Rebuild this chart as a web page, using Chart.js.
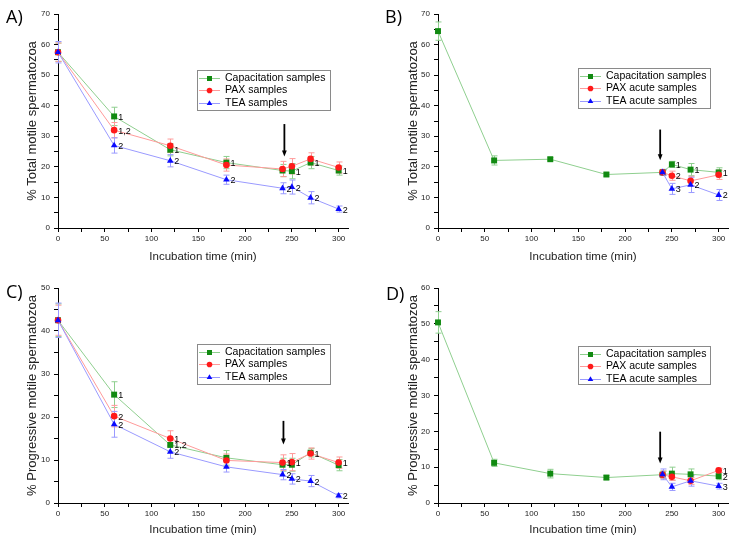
<!DOCTYPE html>
<html>
<head>
<meta charset="utf-8">
<script src="https://cdn.jsdelivr.net/npm/chart.js@4"></script>
<style>
body{margin:0;background:#fff;}
#wrap{position:relative;width:734px;height:541px;overflow:hidden;}
canvas{position:absolute;}
.tag{position:absolute;font-family:'Open Sans',sans-serif;font-size:18px;line-height:1;color:#000;}
</style>
</head>
<body>
<div id="wrap">
  <canvas id="chartA" width="367" height="270" style="left:0;top:0"></canvas>
  <canvas id="chartB" width="367" height="270" style="left:367px;top:0"></canvas>
  <canvas id="chartC" width="367" height="271" style="left:0;top:270px"></canvas>
  <canvas id="chartD" width="367" height="271" style="left:367px;top:270px"></canvas>
  <div class="tag" style="left:6px;top:7px">A)</div>
  <div class="tag" style="left:385px;top:7px">B)</div>
  <div class="tag" style="left:6px;top:282px">C)</div>
  <div class="tag" style="left:386px;top:284px">D)</div>
</div>
<script>
// sampling times (min)
const timesFull = [0, 60, 120, 180, 240, 250, 270, 300];
const timesAcute = [240, 250, 270, 300];

// A) total motile, continuous incubation
const totalCap = [57.5, 36.5, 25.6, 21.4, 18.8, 18.6, 21.4, 18.8];
const totalCapErr = [3, 3, 2, 2, 2, 2.5, 2, 1.5];
const totalPax = [57.5, 32, 26.9, 20.6, 19.3, 20.2, 22.6, 19.8];
const totalPaxErr = [3, 2.5, 2.2, 2, 2.5, 2.5, 2, 1.8];
const totalTea = [57.5, 27, 22, 15.8, 13, 13.4, 9.9, 6.2];
const totalTeaErr = [3.5, 2.5, 2, 1.5, 1.8, 2.3, 2, 1];
const totalCapMarks = ['', '1', '1', '1', '', '1', '1', '1'];
const totalPaxMarks = ['', '1,2', '', '', '', '', '', ''];
const totalTeaMarks = ['', '2', '2', '2', '2', '2', '2', '2'];

// B) total motile, acute addition
const acuteTotalCap = [64.4, 22.1, 22.5, 17.5, 18.2, 20.8, 19.1, 18.2];
const acuteTotalCapErr = [3, 1.5, 0.5, 0.5, 0.8, 1, 2, 1.5];
const acuteTotalPax = [18.2, 17.1, 15.4, 17.4];
const acuteTotalPaxErr = [0.8, 1.5, 1.5, 1.5];
const acuteTotalTea = [18.2, 12.8, 14.1, 10.8];
const acuteTotalTeaErr = [1, 1.8, 2.5, 1.8];
const acuteTotalCapMarks = ['', '', '', '', '', '1', '1', '1'];
const acuteTotalPaxMarks = ['', '2', '', ''];
const acuteTotalTeaMarks = ['', '3', '2', '2'];

// C) progressive motile, continuous incubation
const progCap = [42.5, 25.2, 13.5, 10.5, 8.9, 8.9, 11.7, 8.8];
const progCapErr = [3.8, 3, 1.5, 1.7, 1.5, 1.5, 1, 1.3];
const progPax = [42.5, 20.2, 15, 9.9, 9.4, 9.5, 11.5, 9.4];
const progPaxErr = [3.5, 2.5, 1.8, 1.5, 1.8, 2, 1.3, 1.3];
const progTea = [42.5, 18.3, 11.9, 8.4, 6.6, 5.6, 5.1, 1.7];
const progTeaErr = [4, 3, 1.5, 1.2, 1.2, 1.2, 1.3, 0.5];
const progCapMarks = ['', '1', '1,2', '', '', '', '', ''];
const progPaxMarks = ['', '2', '1', '', '1', '1', '1', '1'];
const progTeaMarks = ['', '2', '2', '', '2', '2', '2', '2'];

// D) progressive motile, acute addition
const acuteProgCap = [50.4, 11.2, 8.2, 7.1, 7.9, 8.2, 8.0, 7.5];
const acuteProgCapErr = [3, 1, 1.2, 0.6, 1, 1.8, 1.5, 1];
const acuteProgPax = [7.9, 7.3, 6.2, 9.1];
const acuteProgPaxErr = [1, 1, 1, 0.6];
const acuteProgTea = [8.0, 4.5, 6.2, 4.7];
const acuteProgTeaErr = [1.5, 1, 1.5, 0.8];
const acuteProgCapMarks = ['', '', '', '', '', '', '', '2'];
const acuteProgPaxMarks = ['', '', '', '1'];
const acuteProgTeaMarks = ['', '', '', '3'];

const GREEN = '#118a11', GREEN_L = '#8fcf8f';
const RED = '#ff1a1a', RED_L = '#ff9a9a';
const BLUE = '#0a0aff', BLUE_L = '#9a9aff';
const FONT = '"Liberation Sans", Arial, sans-serif';

// error bars under the markers
const errorBars = {
  id: 'errorBars',
  beforeDatasetsDraw(chart) {
    const ctx = chart.ctx, xs = chart.scales.x, ys = chart.scales.y;
    chart.data.datasets.forEach(ds => {
      if (!ds.errors) return;
      ctx.save();
      ctx.strokeStyle = ds.borderColor;
      ctx.lineWidth = 1;
      ds.data.forEach((p, j) => {
        const x = Math.round(xs.getPixelForValue(p.x)) + 0.5;
        const y1 = ys.getPixelForValue(p.y + ds.errors[j]);
        const y2 = ys.getPixelForValue(p.y - ds.errors[j]);
        ctx.beginPath();
        ctx.moveTo(x, y1); ctx.lineTo(x, y2);
        ctx.moveTo(x - 3, y1); ctx.lineTo(x + 3, y1);
        ctx.moveTo(x - 3, y2); ctx.lineTo(x + 3, y2);
        ctx.stroke();
      });
      ctx.restore();
    });
  }
};

// significance numbers next to points
const pointMarks = {
  id: 'pointMarks',
  afterDatasetsDraw(chart) {
    const ctx = chart.ctx;
    ctx.save();
    ctx.fillStyle = '#000';
    ctx.font = '9px ' + FONT;
    ctx.textAlign = 'left';
    ctx.textBaseline = 'middle';
    chart.data.datasets.forEach((ds, i) => {
      if (!ds.marks) return;
      const meta = chart.getDatasetMeta(i);
      meta.data.forEach((el, j) => {
        if (ds.marks[j]) ctx.fillText(ds.marks[j], el.x + 4, el.y + 1);
      });
    });
    ctx.restore();
  }
};

// black arrow marking the addition time
const arrowMark = {
  id: 'arrowMark',
  afterDatasetsDraw(chart, args, opts) {
    if (opts.x == null) return;
    const ctx = chart.ctx;
    const x = chart.scales.x.getPixelForValue(opts.x);
    const y1 = chart.scales.y.getPixelForValue(opts.from);
    const y2 = chart.scales.y.getPixelForValue(opts.to);
    ctx.save();
    ctx.strokeStyle = '#000';
    ctx.fillStyle = '#000';
    ctx.lineWidth = 1.8;
    ctx.beginPath(); ctx.moveTo(x, y1); ctx.lineTo(x, y2 - 5); ctx.stroke();
    ctx.beginPath();
    ctx.moveTo(x - 2.4, y2 - 6); ctx.lineTo(x + 2.4, y2 - 6); ctx.lineTo(x, y2);
    ctx.closePath(); ctx.fill();
    ctx.restore();
  }
};

// legend box inside the plot
const boxLegend = {
  id: 'boxLegend',
  afterDraw(chart, args, opts) {
    if (opts.left == null) return;
    const ctx = chart.ctx;
    ctx.save();
    ctx.strokeStyle = '#8a8a8a';
    ctx.lineWidth = 1;
    ctx.strokeRect(opts.left + 0.5, opts.top + 0.5, opts.width, opts.height);
    chart.data.datasets.forEach((ds, i) => {
      const cy = Math.round(opts.top + 7.5 + i * 12.7) + 0.5;
      const x0 = opts.left + 2;
      ctx.strokeStyle = ds.borderColor;
      ctx.beginPath(); ctx.moveTo(x0, cy); ctx.lineTo(x0 + 21, cy); ctx.stroke();
      ctx.fillStyle = ds.pointBackgroundColor;
      Chart.helpers.drawPoint(ctx, {pointStyle: ds.pointStyle, radius: ds.pointRadius * 0.85, rotation: 0, borderWidth: 0}, x0 + 10.5, cy);
      ctx.fillStyle = '#000';
      ctx.font = '10.5px ' + FONT;
      ctx.textBaseline = 'middle';
      ctx.fillText(ds.label, opts.left + 28, cy);
    });
    ctx.restore();
  }
};

function series(label, xs, ys, errs, marks, style, mark, line, r, order) {
  return {
    label: label,
    data: xs.map((x, i) => ({x: x, y: ys[i]})),
    errors: errs,
    marks: marks,
    pointStyle: style,
    pointRadius: r,
    pointBackgroundColor: mark,
    pointBorderColor: mark,
    pointBorderWidth: 0,
    borderColor: line,
    borderWidth: 1,
    tension: 0,
    fill: false,
    clip: false,
    order: order
  };
}

function makeChart(id, datasets, yMax, yTitle, geo, arrow, legendBox) {
  return new Chart(document.getElementById(id), {
    type: 'line',
    data: {datasets: datasets},
    plugins: [errorBars, pointMarks, arrowMark, boxLegend],
    options: {
      responsive: false,
      animation: false,
      layout: {padding: {left: 0, top: geo.top, right: geo.right, bottom: 0}},
      plugins: {
        legend: {display: false},
        tooltip: {enabled: false},
        arrowMark: arrow,
        boxLegend: legendBox
      },
      scales: {
        x: {
          type: 'linear',
          min: 0,
          max: 310,
          afterFit: s => { s.height = geo.xh; },
          border: {display: true, color: '#000', width: 1},
          grid: {display: true, drawOnChartArea: false, drawTicks: true, tickLength: 4, color: '#000'},
          ticks: {
            stepSize: 25, includeBounds: false, autoSkip: false, maxRotation: 0, padding: 2,
            color: '#222', font: {family: FONT, size: 8},
            callback: v => (v % 50 === 0 ? v : '')
          },
          title: {display: true, text: 'Incubation time (min)', color: '#222',
                  font: {family: FONT, size: 11.5}, padding: {top: 0, bottom: geo.xtp}}
        },
        y: {
          min: 0,
          max: yMax,
          afterFit: s => { s.width = geo.left; },
          border: {display: true, color: '#000', width: 1},
          grid: {display: true, drawOnChartArea: false, drawTicks: true, tickLength: 4, color: '#000'},
          ticks: {
            stepSize: 5, includeBounds: false, padding: 4,
            color: '#222', font: {family: FONT, size: 8},
            callback: v => (v % 10 === 0 ? v : '')
          },
          title: {display: true, text: yTitle, color: '#222',
                  font: {family: FONT, size: 13}, padding: {top: geo.ytp, bottom: 0}}
        }
      }
    }
  });
}

makeChart('chartA', [
  series('Capacitation samples', timesFull, totalCap, totalCapErr, totalCapMarks, 'rect', GREEN, GREEN_L, 4.2, 3),
  series('PAX samples', timesFull, totalPax, totalPaxErr, totalPaxMarks, 'circle', RED, RED_L, 3.3, 2),
  series('TEA samples', timesFull, totalTea, totalTeaErr, totalTeaMarks, 'triangle', BLUE, BLUE_L, 3.8, 1)
], 70, '% Total motile spermatozoa',
  {left: 58, top: 14, right: 19, xh: 42, xtp: 6, ytp: 25},
  {x: 242, from: 34, to: 23.4},
  {left: 197, top: 70, width: 133, height: 40});

makeChart('chartB', [
  series('Capacitation samples', timesFull, acuteTotalCap, acuteTotalCapErr, acuteTotalCapMarks, 'rect', GREEN, GREEN_L, 4.2, 3),
  series('PAX acute samples', timesAcute, acuteTotalPax, acuteTotalPaxErr, acuteTotalPaxMarks, 'circle', RED, RED_L, 3.3, 2),
  series('TEA acute samples', timesAcute, acuteTotalTea, acuteTotalTeaErr, acuteTotalTeaMarks, 'triangle', BLUE, BLUE_L, 3.8, 1)
], 70, '% Total motile spermatozoa',
  {left: 71, top: 14, right: 6, xh: 42, xtp: 6, ytp: 39},
  {x: 237.5, from: 32.2, to: 22.2},
  {left: 211, top: 68, width: 132, height: 40});

makeChart('chartC', [
  series('Capacitation samples', timesFull, progCap, progCapErr, progCapMarks, 'rect', GREEN, GREEN_L, 4.2, 3),
  series('PAX samples', timesFull, progPax, progPaxErr, progPaxMarks, 'circle', RED, RED_L, 3.3, 2),
  series('TEA samples', timesFull, progTea, progTeaErr, progTeaMarks, 'triangle', BLUE, BLUE_L, 3.8, 1)
], 50, '% Progressive motile spermatozoa',
  {left: 58, top: 18, right: 19, xh: 38, xtp: 4, ytp: 25},
  {x: 241, from: 19.1, to: 13.6},
  {left: 197, top: 74, width: 133, height: 40});

makeChart('chartD', [
  series('Capacitation samples', timesFull, acuteProgCap, acuteProgCapErr, acuteProgCapMarks, 'rect', GREEN, GREEN_L, 4.2, 3),
  series('PAX acute samples', timesAcute, acuteProgPax, acuteProgPaxErr, acuteProgPaxMarks, 'circle', RED, RED_L, 3.3, 2),
  series('TEA acute samples', timesAcute, acuteProgTea, acuteProgTeaErr, acuteProgTeaMarks, 'triangle', BLUE, BLUE_L, 3.8, 1)
], 60, '% Progressive motile spermatozoa',
  {left: 71, top: 18, right: 6, xh: 38, xtp: 4, ytp: 39},
  {x: 237.5, from: 19.9, to: 11},
  {left: 211, top: 76, width: 132, height: 38});
</script>
</body>
</html>
